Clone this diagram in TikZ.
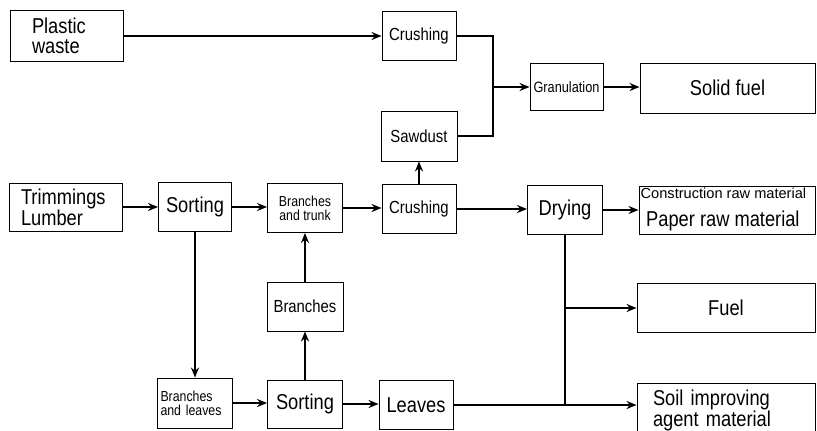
\documentclass[tikz,border=0pt]{standalone}
\usepackage{fontspec}
\setmainfont[FakeStretch=0.85]{Liberation Sans}
\newfontfamily\plainsans{Liberation Sans}
\usetikzlibrary{arrows.meta}
\begin{document}
\begin{tikzpicture}[x=1pt,y=-1pt,
  box/.style={draw, line width=0.9pt, rectangle, inner sep=0pt, align=center},
  big/.style={font=\fontsize{21.5}{20}\selectfont},
  mid/.style={font=\fontsize{17.5}{18}\selectfont},
  sml/.style={font=\fontsize{14.5}{14}\selectfont},
  link/.style={line width=2pt},
  flow/.style={link, -{Stealth[length=10pt,width=8pt]}}]
\useasboundingbox (0,0) rectangle (817,431);

% top row
\node[box, big, minimum width=113pt, minimum height=51pt, text width=69pt, inner xsep=22pt, align=left] (pw) at (66.5,36) {Plastic\\waste};
\node[box, mid, minimum width=74pt, minimum height=49pt] (cr1) at (419,36) {Crushing};
\node[box, mid, minimum width=76pt, minimum height=50pt] (saw) at (419,136) {Sawdust};
\node[box, font=\fontsize{15}{15}\selectfont, minimum width=73pt, minimum height=47pt] (gran) at (566.5,87) {Granulation};
\node[box, big, minimum width=175pt, minimum height=50pt] (sf) at (727.5,88) {Solid fuel};

% middle row
\node[box, big, minimum width=113pt, minimum height=48pt, text width=89pt, inner xsep=12pt, align=left] (tl) at (65.5,207) {Trimmings\\Lumber};
\node[box, big, minimum width=73pt, minimum height=49pt] (so1) at (195,207) {Sorting};
\node[box, sml, minimum width=75pt, minimum height=49pt] (bt) at (305,208) {Branches\\and trunk};
\node[box, mid, minimum width=74pt, minimum height=49pt] (cr2) at (419,209) {Crushing};
\node[box, big, minimum width=75pt, minimum height=49pt] (dry) at (565,210) {Drying};
\node[box, minimum width=176pt, minimum height=48pt] (con) at (727,210) {};
\node[anchor=base west, inner sep=0pt, font=\plainsans\fontsize{14.6}{15}\selectfont] (contxt) at (640.5,198) {Construction raw material};
\node[anchor=base west, inner sep=0pt, big] (paptxt) at (646,226) {Paper raw material};

% lower rows
\node[box, mid, minimum width=76pt, minimum height=49pt] (br) at (305,306.5) {Branches};
\node[box, big, minimum width=178pt, minimum height=49pt] (fuel) at (726,308) {Fuel};
\node[box, sml, minimum width=75pt, minimum height=50pt, text width=69pt, inner xsep=3pt, align=left] (bl) at (195,403) {Branches\\and leaves};
\node[box, big, minimum width=75pt, minimum height=48pt] (so2) at (305,404) {Sorting};
\node[box, big, minimum width=74pt, minimum height=49pt] (lv) at (416,405) {Leaves};
\node[box, big, minimum width=178pt, minimum height=54pt, text width=146pt, inner xsep=16pt, align=left, font=\fontsize{21.5}{19}\selectfont] (soil) at (726,410) {Soil improving\\agent material};

% connectors
\coordinate (j1) at (493,87);
\draw[flow] (pw.east) -- (pw.east -| cr1.west);
\draw[link] (cr1.east) -| (j1);
\draw[link] (saw.east) -| (j1);
\draw[flow] (j1) -- (gran.west);
\draw[flow] (gran.east) -- (gran.east -| sf.west);

\draw[flow] (tl.east) -- (tl.east -| so1.west);
\draw[flow] (so1.east) -- (so1.east -| bt.west);
\draw[flow] (bt.east) -- (bt.east -| cr2.west);
\draw[flow] (cr2.east) -- (cr2.east -| dry.west);
\draw[flow] (dry.east) -- (dry.east -| con.west);
\draw[flow] (cr2.north) -- (saw.south);

\draw[flow] (so1.south) -- (bl.north);
\draw[flow] (bl.east) -- (bl.east -| so2.west);
\draw[flow] (so2.north) -- (br.south);
\draw[flow] (br.north) -- (bt.south);
\draw[flow] (so2.east) -- (so2.east -| lv.west);

\coordinate (jd) at (dry.south |- lv.east);
\draw[link] (dry.south) -- (jd);
\draw[flow] (dry.south |- fuel.west) -- (fuel.west);
\draw[flow] (lv.east) -- (lv.east -| soil.west);
\end{tikzpicture}
\end{document}
